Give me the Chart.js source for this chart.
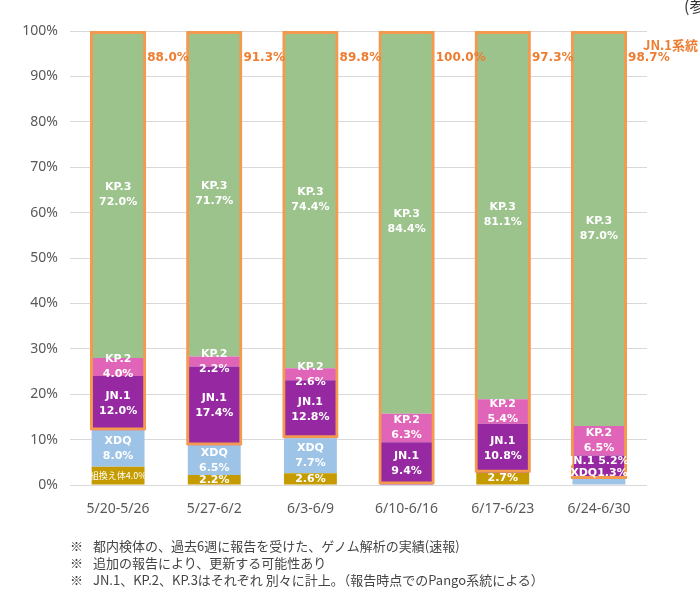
<!DOCTYPE html>
<html lang="ja">
<head>
<meta charset="utf-8">
<title>JN.1系統 週別構成比</title>
<script src="https://cdn.jsdelivr.net/npm/chart.js@4.4.1/dist/chart.umd.min.js"></script>
<style>
  html, body { margin: 0; padding: 0; background: #fff; }
  #wrap { position: relative; width: 700px; height: 609px; overflow: hidden; }
  #chart { position: absolute; left: 0; top: 0; }
  .notes { position: absolute; left: 70px; top: 537px; font: 13px 'Noto Sans CJK JP', sans-serif; color: #444; line-height: 17px; white-space: nowrap; }
  .notes span { display: inline-block; width: 23px; }
</style>
</head>
<body>
<div id="wrap">
  <canvas id="chart" width="700" height="609"></canvas>
  <div class="notes">
    <div><span>※</span>都内検体の、過去6週に報告を受けた、ゲノム解析の実績(速報)</div>
    <div><span>※</span>追加の報告により、更新する可能性あり</div>
    <div><span>※</span>JN.1、KP.2、KP.3はそれぞれ 別々に計上。（報告時点でのPango系統による）</div>
  </div>
</div>
<script>
const weeks = ['5/20-5/26', '5/27-6/2', '6/3-6/9', '6/10-6/16', '6/17-6/23', '6/24-6/30'];
const recombinant = [4.0, 2.2, 2.6, 0, 2.7, 0];
const xdq = [8.0, 6.5, 7.7, 0, 0, 1.3];
const jn1 = [12.0, 17.4, 12.8, 9.4, 10.8, 5.2];
const kp2 = [4.0, 2.2, 2.6, 6.3, 5.4, 6.5];
const kp3 = [72.0, 71.7, 74.4, 84.4, 81.1, 87.0];
const jn1Lineage = [88.0, 91.3, 89.8, 100.0, 97.3, 98.7];
const yTickLabels = ['0%', '10%', '20%', '30%', '40%', '50%', '60%', '70%', '80%', '90%', '100%'];

const ORANGE = '#ed7d31';
const BAR_PCT = 0.55;

function segment(label, data, color) {
  return {
    label,
    data,
    backgroundColor: color,
    borderWidth: 0,
    stack: 'main',
    order: 1,
    barPercentage: BAR_PCT,
    categoryPercentage: 1
  };
}

// white labels inside the stacked segments, orange totals beside the outline
const barLabels = {
  id: 'barLabels',
  afterDatasetsDraw(chart) {
    const ctx = chart.ctx;
    ctx.save();
    ctx.textAlign = 'center';
    ctx.textBaseline = 'middle';
    ctx.fillStyle = '#fff';

    chart.data.datasets.forEach((ds, di) => {
      if (ds.stack !== 'main') return;
      const meta = chart.getDatasetMeta(di);
      meta.data.forEach((bar, i) => {
        const v = ds.data[i];
        if (!v) return;
        const top = bar.y;
        const h = bar.base - bar.y;
        const mid = top + h / 2;
        const txt = v.toFixed(1) + '%';
        ctx.font = 'bold 11px "DejaVu Sans"';

        if (ds.label === '組換え体') {
          if (h > 15) {
            ctx.font = '9px "Noto Sans CJK JP"';
            ctx.fillText('組換え体' + txt, bar.x, mid);
          } else {
            ctx.fillText(txt, bar.x, mid);
          }
        } else if (ds.label === 'XDQ' && h < 10) {
          ctx.fillText('XDQ' + txt, bar.x, top - 6);
        } else if (ds.label === 'JN.1' && h < 30) {
          ctx.fillText('JN.1 ' + txt, bar.x, top + 6);
        } else {
          ctx.fillText(ds.label, bar.x, mid - 7.5);
          ctx.fillText(txt, bar.x, mid + 7.5);
        }
      });
    });

    const outlineIdx = chart.data.datasets.findIndex(ds => ds.stack === 'outline');
    const outlineMeta = chart.getDatasetMeta(outlineIdx);
    ctx.textAlign = 'left';
    ctx.fillStyle = ORANGE;
    ctx.font = 'bold 12px "DejaVu Sans"';
    outlineMeta.data.forEach((bar, i) => {
      ctx.fillText(jn1Lineage[i].toFixed(1) + '%', bar.x + bar.width / 2 + 1, bar.y + 27);
    });

    ctx.font = 'bold 13px "Noto Sans CJK JP"';
    ctx.fillText('JN.1系統', 643, 45);
    ctx.fillStyle = '#333';
    ctx.font = '16px "Noto Sans CJK JP"';
    ctx.fillText('(参考)', 684, 6);
    ctx.restore();
  }
};

new Chart(document.getElementById('chart'), {
  type: 'bar',
  data: {
    labels: weeks,
    datasets: [
      {
        label: 'JN.1系統',
        data: weeks.map((_, i) => [recombinant[i] + xdq[i], 100]),
        stack: 'outline',
        grouped: false,
        order: 0,
        backgroundColor: 'rgba(0,0,0,0)',
        borderColor: '#f39a4f',
        borderWidth: 3,
        borderSkipped: false,
        barPercentage: 0.585,
        categoryPercentage: 1
      },
      segment('組換え体', recombinant, '#c59b00'),
      segment('XDQ', xdq, '#9dc3e6'),
      segment('JN.1', jn1, '#9629a1'),
      segment('KP.2', kp2, '#e065b8'),
      segment('KP.3', kp3, '#9dc38d')
    ]
  },
  plugins: [barLabels],
  options: {
    responsive: false,
    animation: false,
    layout: {
      padding: { left: 10, right: 53, top: 31, bottom: 84 }
    },
    plugins: {
      legend: { display: false },
      tooltip: { enabled: false }
    },
    scales: {
      x: {
        stacked: true,
        grid: { display: false },
        border: { display: false },
        ticks: {
          color: '#595959',
          padding: 8,
          font: { family: 'Noto Sans', size: 14 }
        },
        afterFit(scale) { scale.height = 40; }
      },
      y: {
        stacked: true,
        min: 0,
        max: 100,
        grid: { color: '#d9d9d9', drawTicks: false },
        border: { display: false },
        ticks: {
          stepSize: 10,
          color: '#595959',
          padding: 12,
          font: { family: 'Noto Sans', size: 14 },
          callback: (v, idx) => yTickLabels[idx]
        },
        afterFit(scale) { scale.width = 60; }
      }
    }
  }
});
</script>
</body>
</html>
